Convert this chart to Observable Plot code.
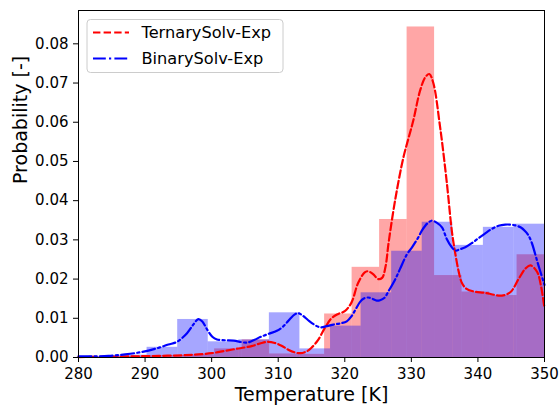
<!DOCTYPE html>
<html>
<head>
<meta charset="utf-8">
<script src="https://cdn.jsdelivr.net/npm/d3@7"></script>
<script src="https://cdn.jsdelivr.net/npm/@observablehq/plot@0.6"></script>
<style>
  html, body { margin: 0; padding: 0; background: white; }
  #wrap { position: relative; width: 560px; height: 406px; }
  #legend { position: absolute; left: 0; top: 0; pointer-events: none; }
</style>
</head>
<body>
<div id="wrap"></div>
<script>
// ---- Data ----
const xTicks = [280, 290, 300, 310, 320, 330, 340, 350];
const yTicks = [0, 0.01, 0.02, 0.03, 0.04, 0.05, 0.06, 0.07, 0.08];

// Histogram: TernarySolv-Exp (red), bin edges and heights
const redEdges = [279.80, 283.93, 288.06, 292.19, 296.32, 300.45, 304.58, 308.71, 312.84, 316.97, 321.10, 325.23, 329.36, 333.49, 337.62, 341.75, 345.88, 350.01];
const redHeights = [0.0001, 0.0002, 0.0004, 0.0005, 0.0007, 0.0022, 0.0045, 0.0009, 0.0008, 0.0111, 0.0230, 0.0352, 0.0843, 0.0209, 0.0167, 0.0158, 0.0262];

// Histogram: BinarySolv-Exp (blue)
const blueEdges = [281.12, 285.71, 290.30, 294.90, 299.49, 304.08, 308.67, 313.26, 317.86, 322.45, 327.04, 331.63, 336.22, 340.82, 345.41, 350.00];
const blueHeights = [0.0003, 0.0006, 0.0026, 0.0097, 0.0040, 0.0045, 0.0114, 0.0022, 0.0080, 0.0165, 0.0271, 0.0345, 0.0286, 0.0332, 0.0340];

// KDE curve: TernarySolv-Exp
const redT = [280, 284, 288, 292, 296, 298, 300, 302, 304, 306, 307.5, 308.5, 309.5, 310.5, 311.5, 312.5, 313.3, 314.2, 315, 316, 317, 318, 319, 320, 321, 322, 323, 323.5, 324.3, 325, 325.6, 326.1, 326.6, 327.6, 328.8, 329.5, 330.3, 331.3, 332.1, 332.7, 333.3, 334.3, 335.3, 336.1, 336.6, 337.1, 337.6, 338.3, 339.5, 341, 343.6, 344.9, 346.1, 347.2, 347.9, 348.9, 349.5, 350];
const redP = [0.0001, 0.0002, 0.0003, 0.0004, 0.0006, 0.0008, 0.0011, 0.0017, 0.0023, 0.0029, 0.0037, 0.0040, 0.0037, 0.0030, 0.0020, 0.0013, 0.0011, 0.0015, 0.0025, 0.0045, 0.0075, 0.0100, 0.0111, 0.0118, 0.0140, 0.0190, 0.0217, 0.0220, 0.0212, 0.0200, 0.0203, 0.0230, 0.0295, 0.0405, 0.0510, 0.0555, 0.0605, 0.0680, 0.0715, 0.0723, 0.0700, 0.0590, 0.0450, 0.0320, 0.0265, 0.0220, 0.0190, 0.0175, 0.0168, 0.0165, 0.0158, 0.0167, 0.0200, 0.0228, 0.0235, 0.0218, 0.0180, 0.0125];

// KDE curve: BinarySolv-Exp
const blueT = [280, 282.5, 284.5, 287, 289.5, 291.5, 293.5, 294.8, 296.3, 297.3, 298.0, 298.6, 299.3, 300.1, 300.8, 302, 303.3, 305.3, 306.3, 307.3, 308.5, 309.8, 310.8, 311.8, 312.5, 313.0, 313.6, 314.5, 315.3, 316.3, 317.3, 318.3, 319.3, 320.3, 321.0, 321.6, 322.3, 322.8, 323.5, 324.1, 324.8, 325.3, 326.0, 326.6, 327.6, 328.3, 329.3, 330.1, 331.0, 331.6, 332.4, 333.1, 333.8, 334.6, 335.3, 336.0, 336.6, 337.3, 338.1, 339.2, 340.3, 341.2, 342.1, 343.1, 344.1, 345.3, 346.4, 347.1, 347.6, 348.1, 348.6, 349.0, 349.4, 350];
const blueP = [0.0003, 0.0003, 0.0004, 0.0008, 0.0014, 0.0022, 0.0033, 0.0040, 0.0062, 0.0085, 0.0098, 0.0092, 0.0072, 0.0053, 0.0046, 0.0044, 0.0043, 0.0038, 0.0044, 0.0052, 0.0060, 0.0068, 0.0080, 0.0099, 0.0110, 0.0113, 0.0108, 0.0095, 0.0085, 0.0077, 0.0080, 0.0084, 0.0087, 0.0092, 0.0105, 0.0122, 0.0142, 0.0150, 0.0153, 0.0150, 0.0145, 0.0146, 0.0153, 0.0170, 0.0200, 0.0226, 0.0262, 0.0281, 0.0305, 0.0324, 0.0342, 0.0349, 0.0344, 0.0332, 0.0303, 0.0283, 0.0273, 0.0276, 0.0281, 0.0293, 0.0307, 0.0318, 0.0328, 0.0336, 0.0339, 0.0338, 0.0332, 0.0322, 0.0311, 0.0292, 0.0264, 0.0240, 0.0218, 0.0185];

const seriesNames = ["TernarySolv-Exp", "BinarySolv-Exp"];
const xLabel = "Temperature [K]";
const yLabel = "Probability [-]";

// ---- Build tables ----
const redBins = redHeights.map((h, i) => ({x1: redEdges[i], x2: redEdges[i + 1], y: h}));
const blueBins = blueHeights.map((h, i) => ({x1: blueEdges[i], x2: blueEdges[i + 1], y: h}));
const redKde = redT.map((t, i) => ({t, p: redP[i]}));
const blueKde = blueT.map((t, i) => ({t, p: blueP[i]}));

const font = "'DejaVu Sans', sans-serif";

const chart = Plot.plot({
  width: 560,
  height: 406,
  marginLeft: 78,
  marginRight: 16,
  marginTop: 10,
  marginBottom: 49,
  x: {domain: [280, 350]},
  y: {domain: [0, 0.0885]},
  style: {fontFamily: font, fontSize: "15px", color: "black", background: "white"},
  marks: [
    Plot.rectY(redBins, {x1: "x1", x2: "x2", y: "y", fill: "red", fillOpacity: 0.35}),
    Plot.rectY(blueBins, {x1: "x1", x2: "x2", y: "y", fill: "blue", fillOpacity: 0.35}),
    Plot.line(redKde, {x: "t", y: "p", stroke: "red", strokeWidth: 2.2, strokeDasharray: "7.4,3.2", curve: "catmull-rom"}),
    Plot.line(blueKde, {x: "t", y: "p", stroke: "blue", strokeWidth: 2.2, strokeDasharray: "12.8,3.2,2.2,3.2", curve: "catmull-rom"}),
    Plot.frame({stroke: "black", strokeWidth: 1}),
    Plot.axisX({ticks: xTicks, tickSize: 5, tickPadding: 5.5, label: null, fontSize: 15, tickFormat: d => String(d)}),
    Plot.axisY({ticks: yTicks, tickSize: 5, tickPadding: 5, label: null, fontSize: 15, tickFormat: d3.format(".2f")}),
    Plot.text([xLabel], {frameAnchor: "bottom", lineAnchor: "middle", dy: 37, fontSize: 19, fill: "black"}),
    Plot.text([yLabel], {frameAnchor: "left", lineAnchor: "middle", dx: -58, rotate: -90, fontSize: 19, fill: "black"})
  ]
});

const wrap = document.getElementById("wrap");
wrap.appendChild(chart);

// ---- Legend (overlay inside the axes, top-left) ----
const ns = "http://www.w3.org/2000/svg";
const leg = document.createElementNS(ns, "svg");
leg.setAttribute("id", "legend");
leg.setAttribute("width", 560);
leg.setAttribute("height", 406);
const box = document.createElementNS(ns, "rect");
box.setAttribute("x", 87); box.setAttribute("y", 19.5);
box.setAttribute("width", 196); box.setAttribute("height", 53);
box.setAttribute("rx", 3.5);
box.setAttribute("fill", "white"); box.setAttribute("fill-opacity", 0.8);
box.setAttribute("stroke", "#cccccc"); box.setAttribute("stroke-width", 1);
leg.appendChild(box);
const entries = [
  {name: seriesNames[0], color: "red", dash: "7.4,3.2", y: 32.5},
  {name: seriesNames[1], color: "blue", dash: "12.8,3.2,2.2,3.2", y: 58.5}
];
for (const e of entries) {
  const l = document.createElementNS(ns, "line");
  l.setAttribute("x1", 93); l.setAttribute("x2", 129);
  l.setAttribute("y1", e.y); l.setAttribute("y2", e.y);
  l.setAttribute("stroke", e.color); l.setAttribute("stroke-width", 2.2);
  l.setAttribute("stroke-dasharray", e.dash);
  leg.appendChild(l);
  const t = document.createElementNS(ns, "text");
  t.setAttribute("x", 141.5); t.setAttribute("y", e.y);
  t.setAttribute("dy", "0.36em");
  t.setAttribute("font-family", font);
  t.setAttribute("font-size", 16.2);
  t.setAttribute("fill", "black");
  t.textContent = e.name;
  leg.appendChild(t);
}
wrap.appendChild(leg);
</script>
</body>
</html>
